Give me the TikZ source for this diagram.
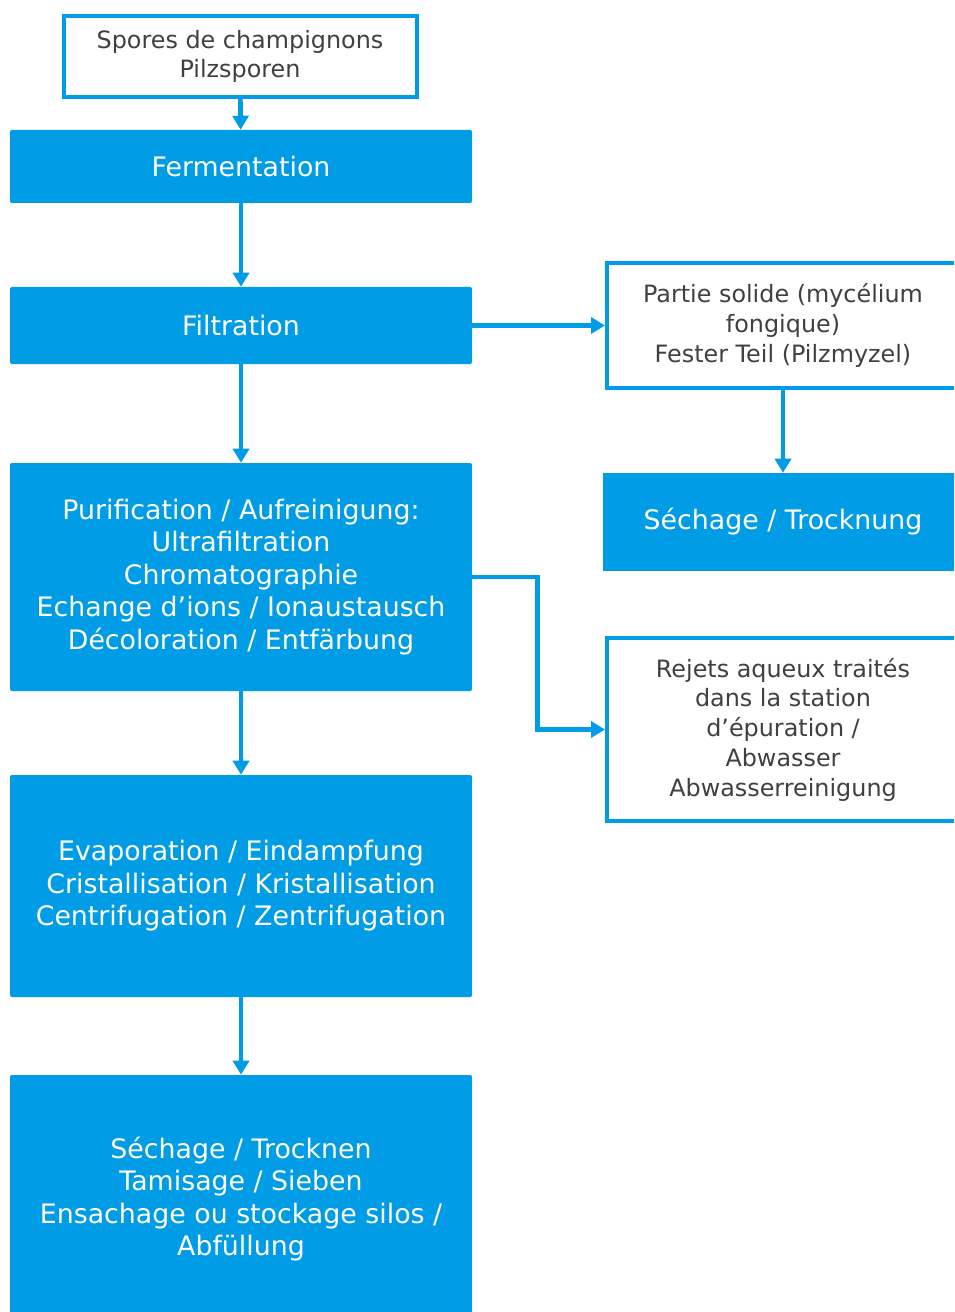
\documentclass[tikz,border=0pt]{standalone}
\usepackage{fontspec}
\setmainfont{DejaVu Sans}
\usetikzlibrary{arrows.meta}
\definecolor{procblue}{RGB}{0,156,229}
\definecolor{textgrey}{RGB}{64,64,64}

\begin{document}
\begin{tikzpicture}[x=0.75pt,y=-0.75pt,
    stepfill/.style={fill=procblue,text=white,align=center,inner sep=0pt,
      rounded corners=1.5pt,font=\fontsize{20.1}{24.4}\selectfont},
    stepframe/.style={draw=procblue,line width=3pt,fill=white,text=textgrey,
      align=center,inner sep=0pt,font=\fontsize{17.9}{22.3}\selectfont},
    flow/.style={draw=procblue,line width=3.5pt,-{Triangle[length=10.5pt,width=12pt]}}]
  \useasboundingbox (0,0) rectangle (954,1312);
  \clip (0,0) rectangle (954,1312);
  % main line
  \node[stepframe,minimum width=264.75pt,minimum height=60.75pt] (spores) at (240,56.5)
    {Spores de champignons\\Pilzsporen};
  \node[stepfill,minimum width=346.5pt,minimum height=54.75pt] (ferment) at (241,166.5)
    {Fermentation};
  \node[stepfill,minimum width=346.5pt,minimum height=57.75pt] (filtr) at (241,325.5)
    {Filtration};
  \node[stepfill,minimum width=346.5pt,minimum height=171pt] (purif) at (241,577)
    {Purification / Aufreinigung:\\Ultrafiltration\\Chromatographie\\Echange d’ions / Ionaustausch\\Décoloration / Entfärbung};
  \node[stepfill,minimum width=346.5pt,minimum height=166.5pt] (evap) at (241,886)
    {Evaporation / Eindampfung\\Cristallisation / Kristallisation\\Centrifugation / Zentrifugation};
  \node[stepfill,minimum width=346.5pt,minimum height=186pt] (dry) at (241,1199)
    {Séchage / Trocknen\\Tamisage / Sieben\\Ensachage ou stockage silos /\\Abfüllung};
  % side branch
  \node[stepframe,minimum width=264pt,minimum height=93.75pt] (solid) at (783,325.5)
    {Partie solide (mycélium\\fongique)\\Fester Teil (Pilzmyzel)};
  \node[stepfill,rounded corners=0pt,minimum width=270pt,minimum height=73.5pt] (drysolid) at (783,522)
    {Séchage / Trocknung};
  \node[stepframe,minimum width=264pt,minimum height=137.25pt] (waste) at (783,729.5)
    {Rejets aqueux traités\\dans la station\\d’épuration /\\Abwasser\\Abwasserreinigung};
  % arrows
  \draw[flow] (spores) -- (ferment);
  \draw[flow] (ferment) -- (filtr);
  \draw[flow] (filtr) -- (purif);
  \draw[flow] (purif) -- (evap);
  \draw[flow] (evap) -- (dry);
  \draw[flow] (filtr) -- (solid);
  \draw[flow] (solid) -- (drysolid);
  \draw[flow] (purif.east) -- ++(65,0) |- (waste.west);
\end{tikzpicture}
\end{document}
